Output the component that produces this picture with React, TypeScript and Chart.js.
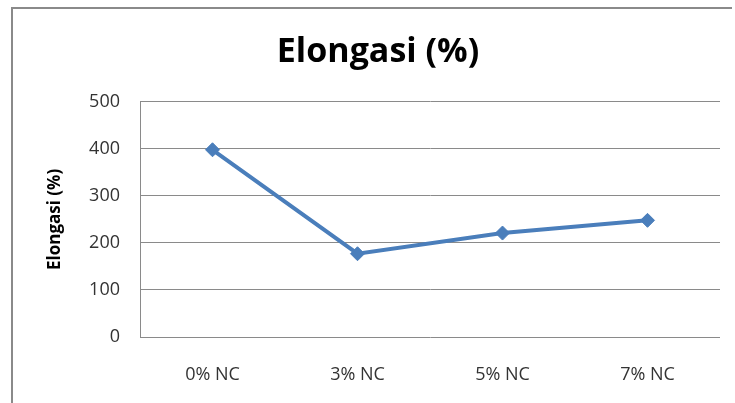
import React, { useEffect, useRef } from "react";
import { Chart, registerables } from "chart.js";

Chart.register(...registerables);

const chartTitle = "Elongasi (%)";
const yAxisTitle = "Elongasi (%)";
const categories = ["0% NC", "3% NC", "5% NC", "7% NC"];
const elongasi = [398, 177, 221, 248];
const yMin = 0;
const yMax = 500;
const yStep = 100;

const FONT = "'Open Sans', 'Liberation Sans', sans-serif";

const framePlugin = {
  id: "frame",
  afterLayout(chart: any) {
    const tb = chart.titleBlock;
    if (tb) {
      tb.left = 36;
      tb.right = 720;
      tb.width = tb.right - tb.left;
    }
  },
  beforeDraw(chart: any) {
    const { ctx, width, height } = chart;
    ctx.save();
    ctx.fillStyle = "#ffffff";
    ctx.fillRect(0, 0, width, height);
    ctx.strokeStyle = "#8a8a8a";
    ctx.lineWidth = 2;
    ctx.beginPath();
    ctx.moveTo(12, height + 2);
    ctx.lineTo(12, 8);
    ctx.lineTo(732, 8);
    ctx.stroke();
    ctx.restore();
  },
};

export default function App() {
  const ref = useRef<HTMLCanvasElement | null>(null);

  useEffect(() => {
    document.body.style.margin = "0";
    const canvas = ref.current;
    if (!canvas) return;
    const chart = new Chart(canvas, {
      type: "line",
      data: {
        labels: categories,
        datasets: [
          {
            label: chartTitle,
            data: elongasi,
            borderColor: "#4A7EBB",
            backgroundColor: "#4A7EBB",
            borderWidth: 4,
            pointStyle: "rectRot",
            pointRadius: 7,
            pointBorderWidth: 1,
            pointBackgroundColor: "#4A7EBB",
            pointBorderColor: "#4A7EBB",
            tension: 0,
          },
        ],
      },
      options: {
        responsive: false,
        animation: false,
        devicePixelRatio: 1,
        layout: { padding: { left: 0, right: 15, top: 0, bottom: 0 } },
        plugins: {
          legend: { display: false },
          tooltip: { enabled: false },
          title: {
            display: true,
            text: chartTitle,
            color: "#000000",
            font: { family: FONT, size: 34, weight: "bold", lineHeight: 1.2 },
            padding: { top: 32, bottom: 29 },
          },
        },
        scales: {
          x: {
            type: "category",
            offset: true,
            grid: { display: false, drawTicks: false },
            border: { display: false },
            ticks: {
              color: "#333333",
              font: { family: FONT, size: 18 },
              padding: 27,
              maxRotation: 0,
            },
            afterFit(scale: any) {
              scale.height = 66;
            },
          },
          y: {
            min: yMin,
            max: yMax,
            ticks: {
              stepSize: yStep,
              color: "#333333",
              font: { family: FONT, size: 18 },
              padding: 20,
            },
            grid: { color: "#8a8a8a", lineWidth: 1, drawTicks: false },
            border: { display: true, color: "#8a8a8a", width: 1 },
            title: {
              display: true,
              text: yAxisTitle,
              color: "#000000",
              font: { family: FONT, size: 17, weight: "bold", lineHeight: 1.2 },
              padding: { top: 45, bottom: 0 },
            },
            afterFit(scale: any) {
              scale.width = 140;
            },
          },
        },
      },
      plugins: [framePlugin],
    });
    return () => chart.destroy();
  }, []);

  return (
    <div style={{ position: "absolute", left: 0, top: 0, width: 735, height: 403 }}>
      <canvas ref={ref} width={735} height={403} style={{ display: "block" }} />
    </div>
  );
}
